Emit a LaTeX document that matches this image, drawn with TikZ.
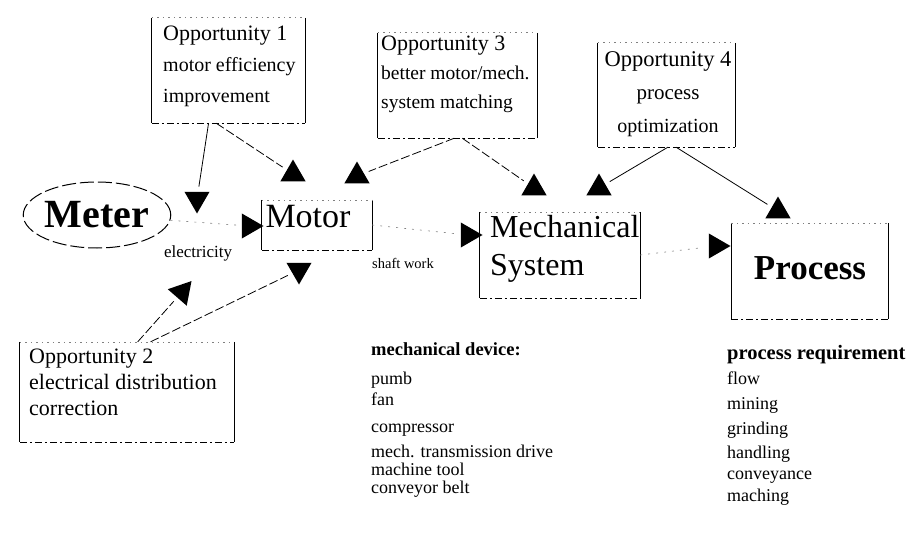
\documentclass[tikz,border=0pt]{standalone}
\usepackage{fontspec}
\setmainfont{Liberation Serif}
\usetikzlibrary{shapes.geometric,calc}
\tikzset{
  frame/.style={draw=none, inner sep=0pt},
  side/.style={line width=1.1pt},
  edgebot/.style={line width=0.9pt, dash pattern=on 7pt off 3pt on 2pt off 3pt},
  edgetop/.style={line width=0.6pt, gray, dash pattern=on 1.5pt off 4pt},
  tri/.style={regular polygon, regular polygon sides=3, fill=black, draw=none,
              inner sep=0pt, minimum size=29pt},
  conn/.style={line width=0.8pt, dash pattern=on 9pt off 3pt, shorten >=5pt},
  solidconn/.style={line width=0.8pt, shorten >=5pt},
  faint/.style={line width=0.6pt, gray, dash pattern=on 2pt off 6pt, shorten >=5pt},
  txt/.style={inner sep=0pt, align=left},
}
\newcommand\halfbox[1]{%
  \draw[side] (#1.north west) -- (#1.south west);
  \draw[side] (#1.north east) -- (#1.south east);
  \draw[edgebot] (#1.south west) -- (#1.south east);
  \draw[edgetop] (#1.north west) -- (#1.north east);
}
\begin{document}
\begin{tikzpicture}[x=1pt,y=-1pt]
\useasboundingbox (0,0) rectangle (919,535);

% ---------- Opportunity boxes ----------
\node[frame, minimum width=153pt, minimum height=105pt] (opp1) at (228.5,70.5) {};
\node[txt, anchor=west, font=\fontsize{20}{31}\selectfont] (opp1t) at (163,66)
  {{\fontsize{22}{31}\selectfont Opportunity 1}\\motor efficiency\\improvement};
\halfbox{opp1}

\node[frame, minimum width=159pt, minimum height=105pt] (opp3) at (457.5,85.5) {};
\node[txt, anchor=west, font=\fontsize{19.5}{29}\selectfont] (opp3t) at (381,74)
  {{\fontsize{22}{29}\selectfont Opportunity 3}\\better motor/mech.\\system matching};
\halfbox{opp3}

\node[frame, minimum width=137pt, minimum height=104pt] (opp4) at (666.5,95) {};
\node[txt, align=center, font=\fontsize{20}{33}\selectfont] (opp4t) at (668,94)
  {{\fontsize{22.5}{33}\selectfont Opportunity 4}\\{\fontsize{21}{33}\selectfont process}\\optimization};
\halfbox{opp4}

\node[frame, minimum width=214pt, minimum height=100pt] (opp2) at (127,392) {};
\node[txt, anchor=west, font=\fontsize{22}{26}\selectfont] (opp2t) at (29,382)
  {Opportunity 2\\electrical distribution\\correction};
\halfbox{opp2}

% ---------- main chain ----------
\node[ellipse, draw, line width=1pt, dash pattern=on 14pt off 4pt, minimum width=118pt,
      minimum height=66pt, inner sep=0pt, font=\fontsize{40}{40}\selectfont\bfseries]
      (meter) at (97,215) {Meter};

\node[frame, minimum width=110pt, minimum height=50pt] (motor) at (317,225) {};
\node[txt, font=\fontsize{34}{34}\selectfont] (motort) at (308,217) {Motor};
\halfbox{motor}

\node[frame, minimum width=160pt, minimum height=86pt] (mech) at (560,255) {};
\node[txt, anchor=west, font=\fontsize{32}{38}\selectfont] (mecht) at (490,249)
  {Mechanical\\System};
\halfbox{mech}

\node[frame, minimum width=157pt, minimum height=96pt] (proc) at (810,271) {};
\node[txt, font=\fontsize{35}{35}\selectfont\bfseries] (proct) at (810,268) {Process};
\halfbox{proc}

\node[txt, font=\fontsize{17}{17}\selectfont] (elec) at (198,253) {electricity};
\node[txt, font=\fontsize{14.5}{14.5}\selectfont] (shaft) at (403,263) {shaft work};

% ---------- lists ----------
\node[txt, anchor=north west, font=\fontsize{18}{22}\selectfont] (mlist) at (371,342)
  {{\fontsize{18.5}{22}\selectfont\bfseries mechanical device:}\\[7pt]pumb\\[-1pt]fan\\[5pt]compressor\\[3pt]mech. transmission drive\\[-4pt]machine tool\\[-4pt]conveyor belt};
\node[txt, anchor=north west, font=\fontsize{18}{24}\selectfont] (plist) at (727,345)
  {{\fontsize{20.5}{24}\selectfont\bfseries process requirement}\\[1pt]flow\\[1pt]mining\\[1pt]grinding\\handling\\[-3pt]conveyance\\[-2pt]maching};

% ---------- triangles ----------
\node[tri, shape border rotate=180] (tA) at (197,199) {};
\node[tri] (tB) at (293,174) {};
\node[tri] (tC) at (357,176) {};
\node[tri] (tD) at (534,188) {};
\node[tri] (tE) at (599,188) {};
\node[tri] (tF) at (778,211) {};
\node[tri, shape border rotate=-90] (tG) at (249,226) {};
\node[tri, shape border rotate=180] (tH) at (299,270) {};
\node[tri, shape border rotate=-90] (tI) at (468,235) {};
\node[tri, shape border rotate=-90] (tJ) at (716,246) {};
\node[tri, shape border rotate=-41] (tK) at (182,292) {};

% ---------- connectors ----------
\draw[solidconn] ($(opp1.south west)!0.37!(opp1.south east)$) -- (tA);
\draw[conn] ($(opp1.south west)!0.42!(opp1.south east)$) -- (tB);
\draw[conn] ($(opp3.south west)!0.48!(opp3.south east)$) -- (tC);
\draw[conn] ($(opp3.south west)!0.53!(opp3.south east)$) -- (tD);
\draw[solidconn] ($(opp4.south west)!0.51!(opp4.south east)$) -- (tE);
\draw[solidconn] ($(opp4.south west)!0.57!(opp4.south east)$) -- (tF);
\draw[conn] ($(opp2.north west)!0.55!(opp2.north east)$) -- (tK);
\draw[conn] ($(opp2.north west)!0.61!(opp2.north east)$) -- (tH);
\draw[faint] (meter) -- (tG);
\draw[faint] (motor.east) -- (tI);
\draw[faint] (mech.east) -- (tJ);
\end{tikzpicture}
\end{document}
